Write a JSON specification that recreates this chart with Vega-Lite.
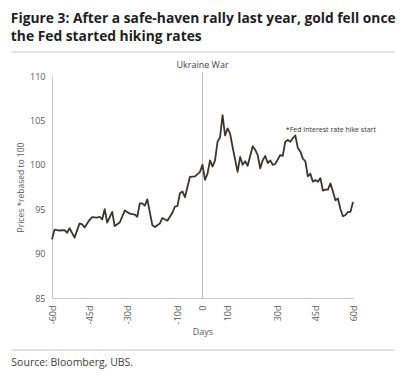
{
  "$schema": "https://vega.github.io/schema/vega-lite/v6.json",
  "width": 301,
  "height": 222,
  "autosize": "none",
  "padding": {"left": 52, "top": 76, "right": 52, "bottom": 84},
  "background": "white",
  "config": {"view": {"stroke": null}, "font": "Open Sans"},
  "title": {
    "text": ["Figure 3: After a safe-haven rally last year, gold fell once", "the Fed started hiking rates"],
    "anchor": "start",
    "fontSize": 13.8,
    "fontWeight": "bold",
    "font": "Open Sans",
    "color": "#1e1e1e",
    "lineHeight": 18,
    "offset": 8
  },
  "datasets": {
    "gold": [
      {"day": -60, "price": 91.6}, {"day": -59, "price": 92.7}, {"day": -57, "price": 92.6},
      {"day": -55, "price": 92.65}, {"day": -54, "price": 92.35}, {"day": -53, "price": 92.85},
      {"day": -51, "price": 91.8}, {"day": -49, "price": 93.4}, {"day": -48, "price": 93.3},
      {"day": -47, "price": 92.95}, {"day": -45, "price": 93.8}, {"day": -44, "price": 94.1},
      {"day": -42, "price": 94.05}, {"day": -41, "price": 94.15}, {"day": -40, "price": 93.85},
      {"day": -39, "price": 95.0}, {"day": -38, "price": 93.5}, {"day": -36, "price": 94.7},
      {"day": -35, "price": 93.1}, {"day": -33, "price": 93.5}, {"day": -31, "price": 94.85},
      {"day": -29, "price": 94.5}, {"day": -27, "price": 94.4}, {"day": -26, "price": 94.15},
      {"day": -25, "price": 95.65}, {"day": -24, "price": 95.65}, {"day": -23, "price": 95.4},
      {"day": -22, "price": 96.1}, {"day": -20, "price": 93.2}, {"day": -19, "price": 93.0},
      {"day": -17, "price": 93.4}, {"day": -16, "price": 94.0}, {"day": -14, "price": 93.7},
      {"day": -12, "price": 94.6}, {"day": -11, "price": 95.3}, {"day": -10, "price": 95.35},
      {"day": -9, "price": 96.8}, {"day": -8, "price": 97.0}, {"day": -7, "price": 96.35},
      {"day": -5, "price": 98.65}, {"day": -3, "price": 98.7}, {"day": -1, "price": 99.2},
      {"day": 0, "price": 100.0}, {"day": 1, "price": 98.3}, {"day": 2, "price": 99.0},
      {"day": 3, "price": 100.5}, {"day": 4, "price": 99.8}, {"day": 5, "price": 100.5},
      {"day": 6, "price": 102.6}, {"day": 7, "price": 103.1}, {"day": 8, "price": 105.6},
      {"day": 9, "price": 103.3}, {"day": 10, "price": 104.1}, {"day": 11, "price": 103.5},
      {"day": 12, "price": 102.0}, {"day": 13, "price": 100.6}, {"day": 14, "price": 99.2},
      {"day": 15, "price": 100.9}, {"day": 16, "price": 100.0}, {"day": 17, "price": 100.4},
      {"day": 18, "price": 99.9}, {"day": 20, "price": 102.1}, {"day": 21, "price": 101.7},
      {"day": 22, "price": 101.1}, {"day": 23, "price": 99.6}, {"day": 24, "price": 100.5},
      {"day": 25, "price": 101.0}, {"day": 26, "price": 100.2}, {"day": 27, "price": 100.5},
      {"day": 28, "price": 100.0}, {"day": 29, "price": 100.1}, {"day": 31, "price": 101.1},
      {"day": 32, "price": 101.0}, {"day": 33, "price": 102.6}, {"day": 34, "price": 102.8},
      {"day": 35, "price": 102.6}, {"day": 36, "price": 103.0}, {"day": 37, "price": 103.3},
      {"day": 38, "price": 101.9}, {"day": 39, "price": 101.5}, {"day": 40, "price": 100.7},
      {"day": 41, "price": 100.4}, {"day": 42, "price": 98.7}, {"day": 43, "price": 99.0},
      {"day": 44, "price": 98.1}, {"day": 45, "price": 98.3}, {"day": 46, "price": 98.1},
      {"day": 47, "price": 98.5}, {"day": 48, "price": 97.1}, {"day": 49, "price": 97.2},
      {"day": 50, "price": 97.2}, {"day": 51, "price": 97.9}, {"day": 52, "price": 97.0},
      {"day": 53, "price": 96.0}, {"day": 54, "price": 96.2}, {"day": 55, "price": 95.0},
      {"day": 56, "price": 94.2}, {"day": 57, "price": 94.35}, {"day": 58, "price": 94.7},
      {"day": 59, "price": 94.7}, {"day": 60, "price": 95.8}
    ],
    "notes": [
      {"day": 0, "price": 110.9, "label": "Ukraine War"}
    ],
    "fed": [
      {"day": 33.2, "price": 103.65, "label": "*Fed Interest rate hike start"}
    ],
    "source": [
      {"day": -76.2, "price": 77.3, "label": "Source: Bloomberg, UBS."}
    ],
    "seps": [
      {"day": -76.2, "day2": 76.6, "price": 112.7},
      {"day": -76.2, "day2": 76.6, "price": 79.14}
    ],
    "event": [
      {"day": 0, "price": 85, "hi": 110.4}
    ]
  },
  "encoding": {
    "x": {
      "field": "day", "type": "quantitative",
      "scale": {"domain": [-60, 60], "nice": false, "zero": false},
      "axis": {
        "values": [-60, -45, -30, -10, 0, 10, 30, 45, 60],
        "labelExpr": "datum.value == 0 ? '0' : datum.value + 'd'",
        "labelAngle": -90,
        "labelOverlap": false,
        "labelFlush": false,
        "labelFontSize": 9,
        "labelColor": "#595959",
        "labelPadding": 7,
        "ticks": false,
        "grid": false,
        "domainColor": "#c8c8c8",
        "title": "Days",
        "titleFontSize": 9,
        "titleFontWeight": "normal",
        "titleColor": "#595959",
        "titlePadding": 4
      }
    },
    "y": {
      "field": "price", "type": "quantitative",
      "scale": {"domain": [85, 110], "nice": false, "zero": false},
      "axis": {
        "values": [85, 90, 95, 100, 105, 110],
        "labelFontSize": 9,
        "labelColor": "#595959",
        "labelPadding": 7,
        "ticks": false,
        "grid": false,
        "domainColor": "#c8c8c8",
        "title": "Prices *rebased to 100",
        "titleFontSize": 8.5,
        "titleFontWeight": "normal",
        "titleColor": "#595959",
        "titlePadding": 4
      }
    }
  },
  "layer": [
    {
      "data": {"name": "event"},
      "mark": {"type": "rule", "color": "#bdbdbd", "strokeWidth": 1},
      "encoding": {"y2": {"field": "hi"}}
    },
    {
      "data": {"name": "gold"},
      "mark": {"type": "line", "color": "#3b3431", "strokeWidth": 1.8, "strokeJoin": "round"},
      "encoding": {}
    },
    {
      "data": {"name": "notes"},
      "mark": {"type": "text", "fontSize": 9, "color": "#444444", "align": "center", "baseline": "alphabetic"},
      "encoding": {"text": {"field": "label"}}
    },
    {
      "data": {"name": "fed"},
      "mark": {"type": "text", "fontSize": 7, "color": "#333333", "align": "left", "baseline": "alphabetic"},
      "encoding": {"text": {"field": "label"}}
    },
    {
      "data": {"name": "seps"},
      "mark": {"type": "rule", "color": "#c8c8c8", "strokeWidth": 1},
      "encoding": {"x2": {"field": "day2"}}
    },
    {
      "data": {"name": "source"},
      "mark": {"type": "text", "fontSize": 10.5, "color": "#404040", "align": "left", "baseline": "alphabetic"},
      "encoding": {"text": {"field": "label"}}
    }
  ]
}
